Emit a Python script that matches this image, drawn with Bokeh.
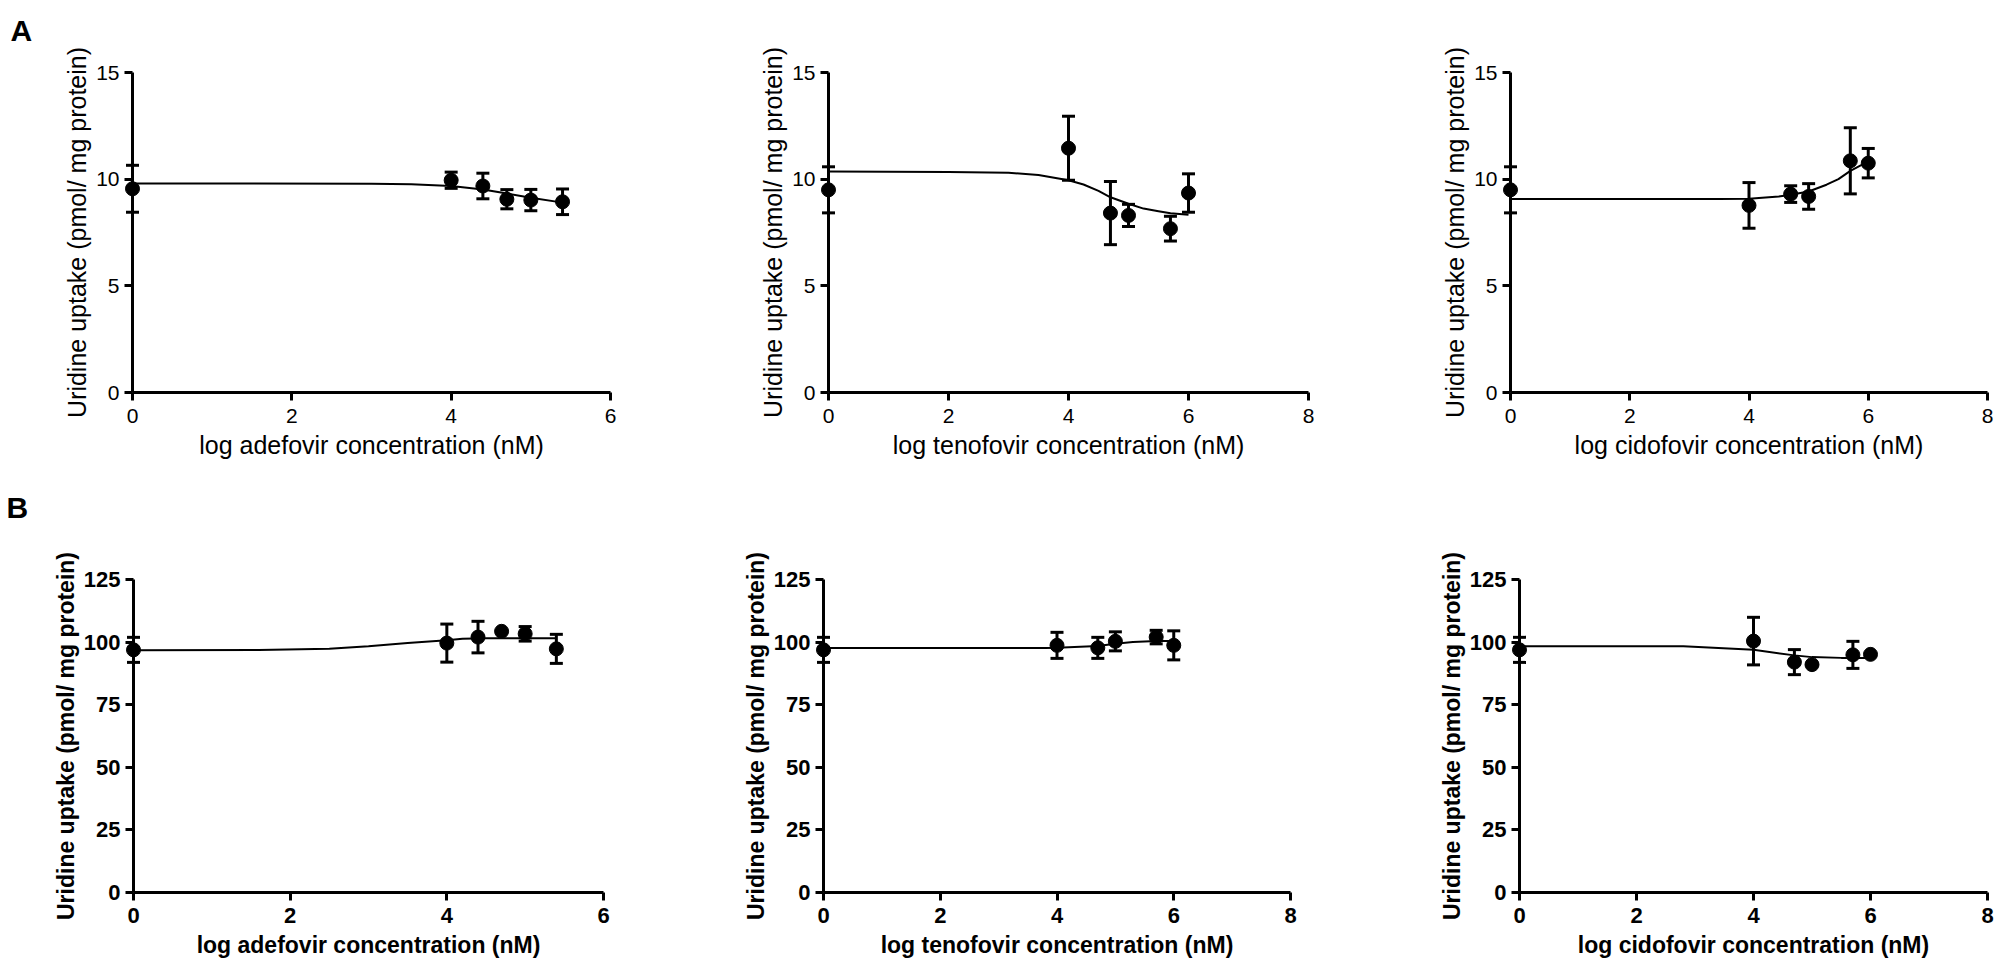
from bokeh.plotting import figure
from bokeh.layouts import column, row
from bokeh.models import Range1d, FixedTicker, ColumnDataSource
from bokeh.core.properties import value
from bokeh.embed import file_html
from bokeh.resources import INLINE

FONT = "Liberation Sans"

# ---------------- data ----------------
ylabel = "Uridine uptake (pmol/ mg protein)"
xlabels = ["log adefovir concentration (nM)",
           "log tenofovir concentration (nM)",
           "log cidofovir concentration (nM)"]

# Panel A
a_ade_x = [0, 4, 4.398, 4.699, 5, 5.398]
a_ade_y = [9.55, 9.95, 9.68, 9.06, 9.02, 8.94]
a_ade_e = [1.1, 0.38, 0.6, 0.45, 0.5, 0.6]
a_ade_cx = [0, 3.0, 3.5, 4.0, 4.4, 4.7, 5.0, 5.4]
a_ade_cy = [9.80, 9.79, 9.76, 9.68, 9.52, 9.33, 9.13, 8.90]

a_ten_x = [0, 4, 4.699, 5, 5.699, 6]
a_ten_y = [9.5, 11.45, 8.41, 8.3, 7.68, 9.35]
a_ten_e = [1.08, 1.5, 1.48, 0.52, 0.58, 0.9]
a_ten_cx = [0, 2, 3, 3.5, 4, 4.25, 4.5, 4.7, 5, 5.25, 5.5, 5.7, 6]
a_ten_cy = [10.36, 10.34, 10.30, 10.20, 9.95, 9.75, 9.45, 9.15, 8.85, 8.62, 8.50, 8.40, 8.33]

a_cid_x = [0, 4, 4.699, 5, 5.699, 6]
a_cid_y = [9.5, 8.77, 9.3, 9.19, 10.86, 10.75]
a_cid_e = [1.08, 1.07, 0.39, 0.6, 1.55, 0.69]
a_cid_cx = [0, 3.5, 4, 4.5, 4.7, 5, 5.3, 5.5, 5.7, 6]
a_cid_cy = [9.07, 9.07, 9.08, 9.19, 9.27, 9.42, 9.74, 10.0, 10.39, 10.83]

# Panel B
b_ade_x = [0, 4, 4.398, 4.699, 5, 5.398]
b_ade_y = [96.9, 99.6, 102.0, 104.3, 103.3, 97.3]
b_ade_e = [5.0, 7.6, 6.3, 0.0, 2.9, 5.8]
b_ade_cx = [0, 1.6, 2.5, 3.0, 3.5, 4.0, 4.2, 4.5, 5.4]
b_ade_cy = [96.7, 96.8, 97.3, 98.3, 99.6, 100.7, 101.3, 101.5, 101.5]

b_ten_x = [0, 4, 4.699, 5, 5.699, 6]
b_ten_y = [96.9, 98.7, 97.7, 100.3, 102.0, 98.7]
b_ten_e = [5.0, 5.2, 4.2, 3.8, 2.7, 5.8]
b_ten_cx = [0, 3.8, 4.0, 4.7, 5.0, 5.3, 5.7, 6.0]
b_ten_cy = [97.6, 97.6, 97.7, 98.4, 99.3, 100.0, 100.4, 100.4]

b_cid_x = [0, 4, 4.699, 5, 5.699, 6]
b_cid_y = [96.9, 100.4, 92.0, 91.0, 94.9, 95.1]
b_cid_e = [5.0, 9.5, 5.0, 0.0, 5.4, 0.0]
b_cid_cx = [0, 2.8, 4.0, 4.7, 5.0, 5.5, 6.0]
b_cid_cy = [98.3, 98.3, 96.9, 94.7, 94.0, 93.7, 93.7]

a_yticks = [0, 5, 10, 15]
b_yticks = [0, 25, 50, 75, 100, 125]
xticks6 = [0, 2, 4, 6]
xticks8 = [0, 2, 4, 6, 8]
panel_letters = ["A", "B"]


def make_panel(xs, ys, es, cx, cy, xmax, ymax, yticks, xticks, xlabel,
               W, H, bl, br, bt, bb, bold):
    p = figure(width=W, height=H,
               x_range=Range1d(0, xmax), y_range=Range1d(0, ymax),
               output_backend="svg", toolbar_location=None,
               min_border_left=bl, min_border_right=br,
               min_border_top=bt, min_border_bottom=bb)
    p.outline_line_color = None
    p.grid.visible = False
    p.background_fill_color = "white"
    p.border_fill_color = "white"

    style = "bold" if bold else "normal"
    tick_size = "22px" if bold else "21px"
    lab_size = "23px" if bold else "25px"
    for ax in (p.xaxis[0], p.yaxis[0]):
        ax.axis_line_width = 3
        ax.axis_line_color = "black"
        ax.major_tick_line_width = 3
        ax.major_tick_line_color = "black"
        ax.major_tick_out = 8
        ax.major_tick_in = 0
        ax.minor_tick_out = 0
        ax.minor_tick_in = 0
        ax.major_label_text_font = FONT
        ax.major_label_text_font_size = tick_size
        ax.major_label_text_font_style = style
        ax.major_label_text_color = "black"
        ax.axis_label_text_font = FONT
        ax.axis_label_text_font_size = lab_size
        ax.axis_label_text_font_style = style
        ax.axis_label_text_color = "black"

    p.xaxis.ticker = FixedTicker(ticks=xticks)
    p.yaxis.ticker = FixedTicker(ticks=yticks)
    p.xaxis.axis_label = xlabel
    p.yaxis.axis_label = ylabel
    p.yaxis.major_label_standoff = 5
    p.yaxis.axis_label_standoff = 2
    if bold:
        p.xaxis.major_label_standoff = 7
        p.xaxis.axis_label_standoff = 6
    else:
        p.xaxis.major_label_standoff = 8
        p.xaxis.axis_label_standoff = 5

    src = ColumnDataSource(dict(
        x=xs, y=ys,
        lo=[y - e for y, e in zip(ys, es)],
        hi=[y + e for y, e in zip(ys, es)],
    ))
    p.line(cx, cy, line_width=2, line_color="black")
    p.segment(x0="x", y0="lo", x1="x", y1="hi", source=src,
              line_width=3, line_color="black", level="overlay")
    p.scatter("x", "lo", marker="dash", size=13, line_width=3,
              line_color="black", source=src, level="overlay")
    p.scatter("x", "hi", marker="dash", size=13, line_width=3,
              line_color="black", source=src, level="overlay")
    p.scatter("x", "y", marker="circle", size=14, fill_color="black",
              line_color="black", source=src, level="overlay")
    return p


H1, H2 = 472, 497
p1 = make_panel(a_ade_x, a_ade_y, a_ade_e, a_ade_cx, a_ade_cy, 6, 15, a_yticks, xticks6,
                xlabels[0], 700, H1, 132, 90, 72, 80, False)
p2 = make_panel(a_ten_x, a_ten_y, a_ten_e, a_ten_cx, a_ten_cy, 8, 15, a_yticks, xticks8,
                xlabels[1], 690, H1, 128, 82, 72, 80, False)
p3 = make_panel(a_cid_x, a_cid_y, a_cid_e, a_cid_cx, a_cid_cy, 8, 15, a_yticks, xticks8,
                xlabels[2], 610, H1, 120, 13, 72, 80, False)
p4 = make_panel(b_ade_x, b_ade_y, b_ade_e, b_ade_cx, b_ade_cy, 6, 125, b_yticks, xticks6,
                xlabels[0], 700, H2, 133, 97, 107, 77, True)
p5 = make_panel(b_ten_x, b_ten_y, b_ten_e, b_ten_cx, b_ten_cy, 8, 125, b_yticks, xticks8,
                xlabels[1], 690, H2, 123, 100, 107, 77, True)
p6 = make_panel(b_cid_x, b_cid_y, b_cid_e, b_cid_cx, b_cid_cy, 8, 125, b_yticks, xticks8,
                xlabels[2], 610, H2, 129, 13, 107, 77, True)

# panel letters, placed relative to the top of each first y axis
p1.text(x=[0], y=[15], text=[panel_letters[0]], x_offset=-122, y_offset=-42,
        text_font=value(FONT), text_font_size="30px", text_font_style="bold",
        text_baseline="alphabetic", text_align="left", text_color="black",
        level="overlay")
p4.text(x=[0], y=[125], text=[panel_letters[1]], x_offset=-127, y_offset=-72,
        text_font=value(FONT), text_font_size="30px", text_font_style="bold",
        text_baseline="alphabetic", text_align="left", text_color="black",
        level="overlay")

layout = column(row(p1, p2, p3), row(p4, p5, p6))
open("out.html", "w").write(file_html(layout, INLINE))
